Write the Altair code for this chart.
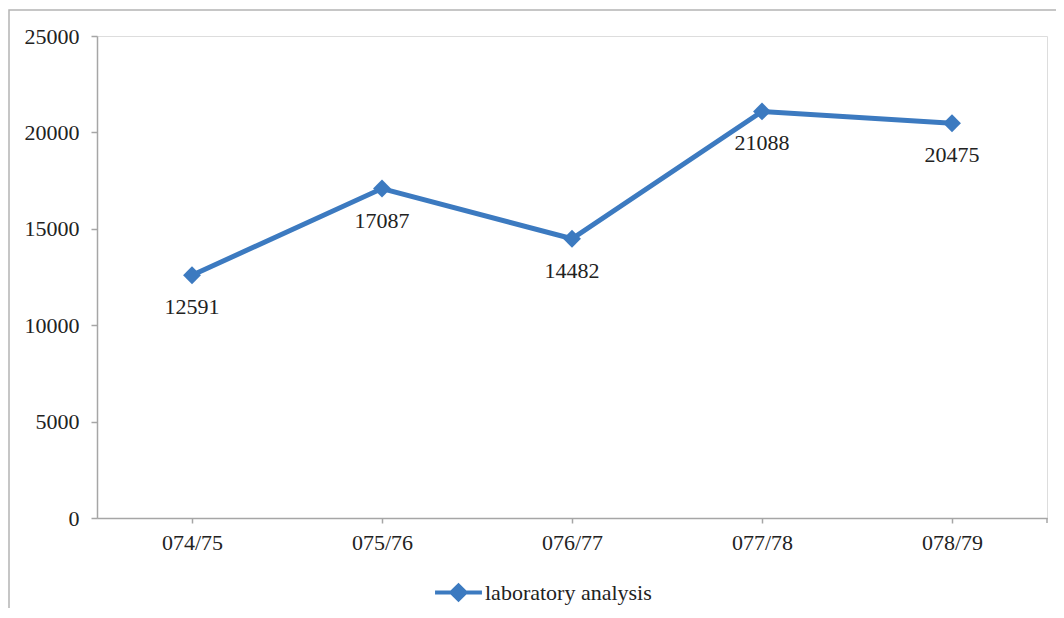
import altair as alt
import pandas as pd

years = ["074/75", "075/76", "076/77", "077/78", "078/79"]
values = [12591, 17087, 14482, 21088, 20475]
series = "laboratory analysis"

df = pd.DataFrame({"year": years, "value": values, "series": [series] * len(years)})

BLUE = "#3C7AC0"
GREY = "#A6A6A6"
FONT = "Liberation Serif"
W, H = 950, 482

x = alt.X("year:N", sort=years, title=None,
          scale=alt.Scale(paddingInner=0, paddingOuter=0),
          axis=alt.Axis(labelAngle=0, labelFont=FONT, labelFontSize=22, labelColor="#222222",
                        domainColor=GREY, domainWidth=1.5, tickColor=GREY, tickWidth=1.5,
                        tickSize=5, labelPadding=9))
y = alt.Y("value:Q", title=None,
          scale=alt.Scale(domain=[0, 25000]),
          axis=alt.Axis(values=[0, 5000, 10000, 15000, 20000, 25000], grid=False, format="d",
                        labelFont=FONT, labelFontSize=22, labelColor="#222222",
                        domainColor=GREY, domainWidth=1.5, tickColor=GREY, tickWidth=1.5,
                        tickSize=6, labelPadding=12))

base = alt.Chart(df)

line = base.mark_line(color=BLUE, strokeWidth=5).encode(x=x, y=y)

points = base.mark_point(filled=True, shape="diamond", size=320, opacity=1).encode(
    x=x, y=y,
    color=alt.Color("series:N", scale=alt.Scale(range=[BLUE]),
                    legend=alt.Legend(title=None, orient="none", legendX=336, legendY=531,
                                      symbolType="M-1,0L1,0M-0.3,0L0,-0.3L0.3,0L0,0.3Z",
                                      symbolSize=2200, symbolStrokeWidth=4,
                                      symbolStrokeColor=BLUE, symbolFillColor=BLUE,
                                      labelFont=FONT, labelFontSize=22, labelColor="#222222",
                                      labelOffset=1, labelLimit=0, padding=0)),
)

labels = base.mark_text(font=FONT, fontSize=22, color="#222222", dy=32).encode(
    x=x, y=y, text=alt.Text("value:Q", format="d"))

one = pd.DataFrame({"k": [0]})
end_tick = alt.Chart(one).mark_rule(color=GREY, strokeWidth=1.5).encode(
    x=alt.value(W), y=alt.value(H), y2=alt.value(H + 5))

frame = alt.Chart(one).mark_rect(fill=None, stroke="#B4B4B4", strokeWidth=1.5).encode(
    x=alt.value(-88), y=alt.value(-26), x2=alt.value(3000), y2=alt.value(3000))

chart = alt.layer(frame, line, points, labels, end_tick).properties(
    width=W, height=H,
    autosize=alt.AutoSizeParams(type="none"),
    padding={"left": 89, "top": 28, "right": 9, "bottom": 90},
).configure_view(stroke=None).configure(background="white")

chart.save("out.html", embed_options={"renderer": "svg", "actions": False})
